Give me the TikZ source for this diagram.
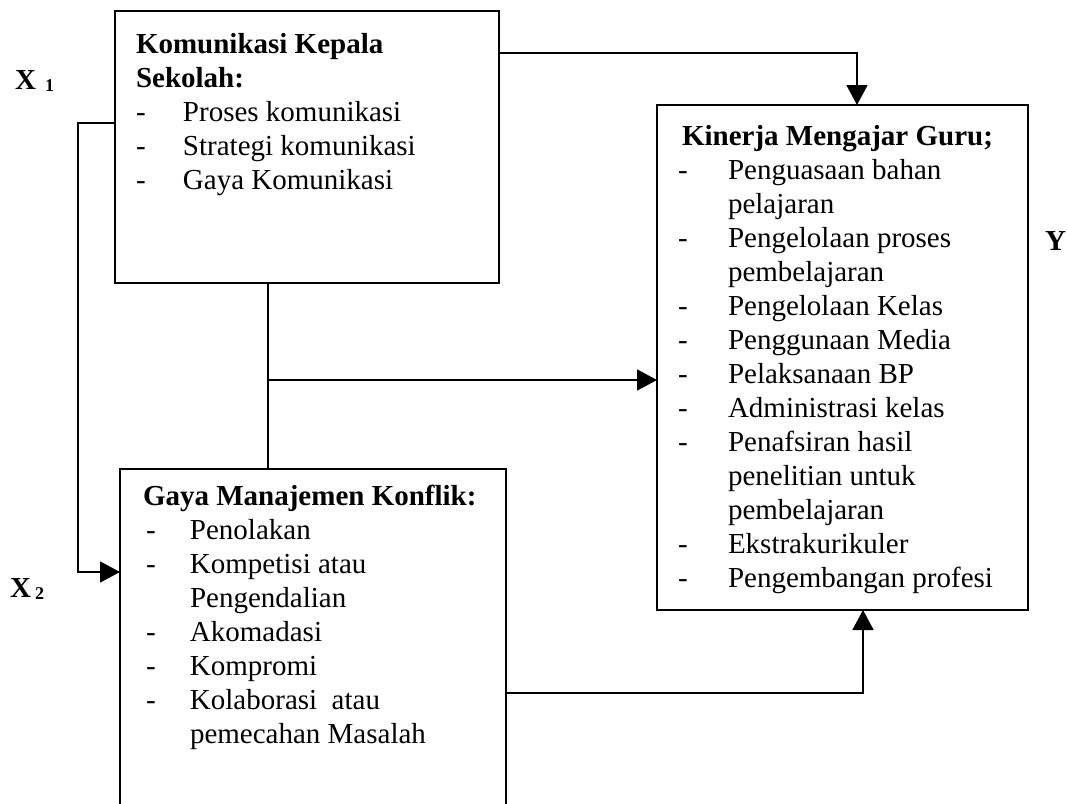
\documentclass[tikz,border=0pt]{standalone}
\usepackage{fontspec}
\setmainfont{Liberation Serif}
\usetikzlibrary{arrows.meta}
\tikzset{
  boxframe/.style={draw, line width=1.8pt, inner sep=0pt, outer sep=0pt, anchor=north west},
  boxtext/.style={anchor=north west, inner sep=0pt, outer sep=0pt, align=left, font=\fontsize{29}{34}\selectfont},
  lab/.style={anchor=base west, inner sep=0pt, font=\fontsize{29}{34}\selectfont\bfseries},
  conn/.style={line width=1.8pt},
  arr/.style={line width=1.8pt, -{Triangle[length=20pt,width=21pt]}}
}
\newcommand{\dashitem}[1]{\makebox[#1][l]{-}}
\begin{document}
\begin{tikzpicture}[x=1pt,y=-1pt]
\useasboundingbox (0,0) rectangle (1067,803);
\clip (0,0) rectangle (1067,803);
\fill[white] (0,0) rectangle (1067,803);
% boxes
\node[boxframe, minimum width=384pt, minimum height=272pt] (b1) at (115,11) {};
\node[boxframe, minimum width=371pt, minimum height=505pt] (b2) at (657,105) {};
\node[boxframe, minimum width=386pt, minimum height=400pt] (b3) at (120,469) {};
% texts
\node[boxtext] (t1) at (136,32) {\rule{0pt}{21pt}\textbf{Komunikasi Kepala}\\
\textbf{Sekolah:}\\
\dashitem{47pt}Proses komunikasi\\
\dashitem{47pt}Strategi komunikasi\\
\dashitem{47pt}Gaya Komunikasi};
\node[boxtext] (t2) at (678,124) {\rule{0pt}{21pt}\hspace*{4pt}\textbf{Kinerja Mengajar Guru;}\\
\dashitem{50pt}Penguasaan bahan\\
\hspace*{50pt}pelajaran\\
\dashitem{50pt}Pengelolaan proses\\
\hspace*{50pt}pembelajaran\\
\dashitem{50pt}Pengelolaan Kelas\\
\dashitem{50pt}Penggunaan Media\\
\dashitem{50pt}Pelaksanaan BP\\
\dashitem{50pt}Administrasi kelas\\
\dashitem{50pt}Penafsiran hasil\\
\hspace*{50pt}penelitian untuk\\
\hspace*{50pt}pembelajaran\\
\dashitem{50pt}Ekstrakurikuler\\
\dashitem{50pt}Pengembangan profesi};
\node[boxtext] (t3) at (143,484) {\rule{0pt}{21pt}\textbf{Gaya Manajemen Konflik:}\\
\hspace*{3pt}\dashitem{44pt}Penolakan\\
\hspace*{3pt}\dashitem{44pt}Kompetisi atau\\
\hspace*{47pt}Pengendalian\\
\hspace*{3pt}\dashitem{44pt}Akomadasi\\
\hspace*{3pt}\dashitem{44pt}Kompromi\\
\hspace*{3pt}\dashitem{44pt}Kolaborasi\ \ atau\\
\hspace*{47pt}pemecahan Masalah};
% labels
\node[lab] (x1) at (15,89) {X\hspace{9pt}\raisebox{-2pt}{\fontsize{18}{20}\selectfont 1}};
\node[lab] (x2) at (10,597) {X\hspace{4pt}\raisebox{-2pt}{\fontsize{18}{20}\selectfont 2}};
\node[lab] (y) at (1045,250) {Y};
% connectors
\draw[arr] (b1.east |- 0,53) -| (857,0 |- b2.north);
\draw[conn] (268,0 |- b1.south) -- (268,0 |- b3.north);
\coordinate (mid) at (268,380);
\draw[arr] (mid) -- (b2.west |- mid);
\coordinate (lk) at (78,123);
\coordinate (lb) at (78,572);
\draw[arr] (b1.west |- lk) -- (lk) -- (lb) -- (b3.west |- lb);
\draw[arr] (b3.east |- 0,693) -| (863,0 |- b2.south);
\end{tikzpicture}
\end{document}
